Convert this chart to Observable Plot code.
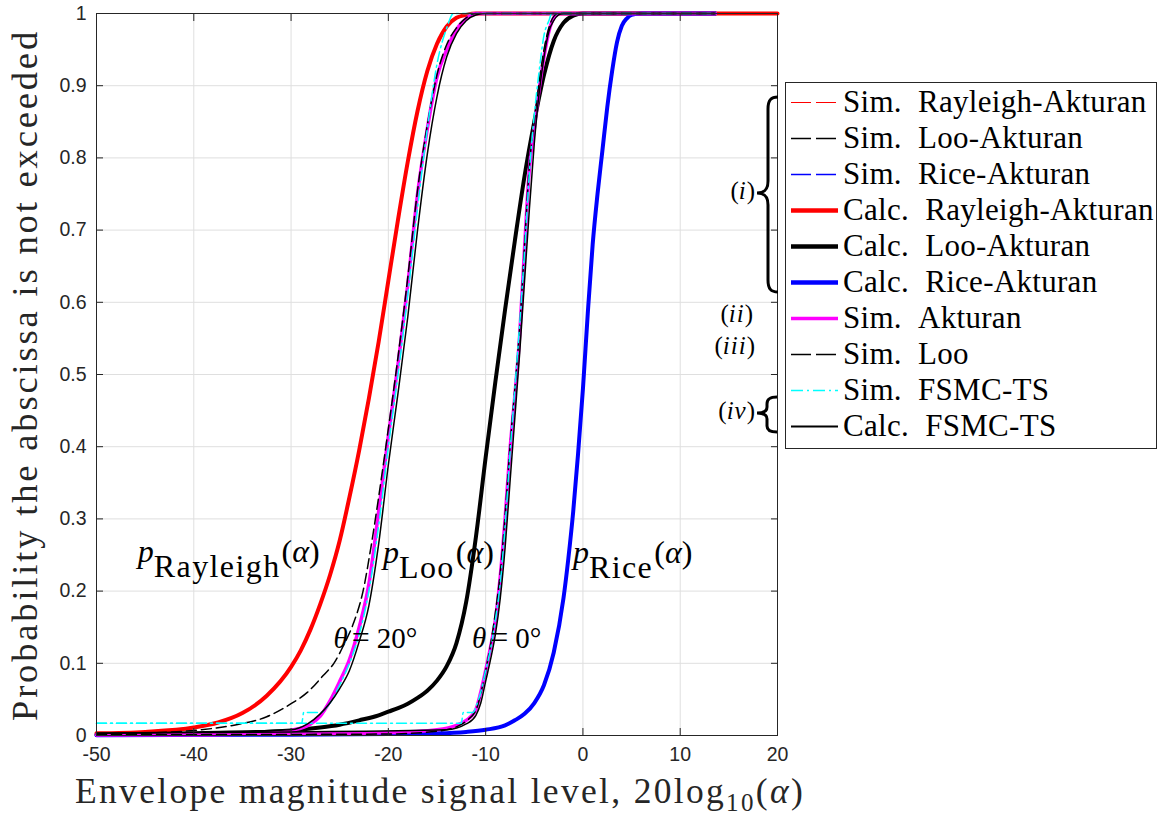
<!DOCTYPE html>
<html><head><meta charset="utf-8">
<script src="https://cdn.jsdelivr.net/npm/d3@7"></script>
<script src="https://cdn.jsdelivr.net/npm/@observablehq/plot@0.6"></script>
<style>
body{margin:0;background:#fff;}
#wrap{position:relative;width:1159px;height:818px;overflow:hidden;}
</style></head><body><div id="wrap"></div>
<script>
// ---------- axis ticks ----------
const xTicks = [-50, -40, -30, -20, -10, 0, 10, 20];
const yTicks = [0, 0.1, 0.2, 0.3, 0.4, 0.5, 0.6, 0.7, 0.8, 0.9, 1];
const yTickLabels = ["0", "0.1", "0.2", "0.3", "0.4", "0.5", "0.6", "0.7", "0.8", "0.9", "1"];

// ---------- series (x in dB, p = CDF) ----------
const rayleighX = [-50, -45, -40, -37.5, -35, -32.5, -30, -29, -28, -27, -26, -25, -24, -23, -22, -21, -20, -19, -18, -17, -16, -15, -14, -13, -12, -11, 20];
const rayleighP = [0.003, 0.005, 0.011, 0.018, 0.031, 0.055, 0.095, 0.118, 0.147, 0.182, 0.222, 0.27, 0.33, 0.395, 0.467, 0.545, 0.63, 0.715, 0.795, 0.865, 0.92, 0.958, 0.982, 0.994, 0.998, 1, 1];

const looAktX = [-50, -40, -30, -27, -25, -23, -21, -20, -19, -18, -17, -16, -15, -14, -13, -12, -11, -10, -9, -8, -7, -6, -5, -4, -3, -2, -1, 0, 13.6];
const looAktP = [0.001, 0.002, 0.007, 0.011, 0.015, 0.021, 0.028, 0.033, 0.038, 0.044, 0.052, 0.062, 0.076, 0.096, 0.128, 0.185, 0.275, 0.385, 0.49, 0.59, 0.685, 0.775, 0.85, 0.915, 0.962, 0.987, 0.997, 1, 1];

const riceX = [-50, -30, -20, -15, -12, -10, -8, -7, -6, -5, -4, -3, -2, -1.5, -1, -0.5, 0, 0.5, 1, 1.5, 2, 2.5, 3, 3.5, 4, 4.5, 5, 6, 13.6];
const riceP = [0.0005, 0.001, 0.002, 0.003, 0.005, 0.008, 0.014, 0.021, 0.03, 0.045, 0.07, 0.115, 0.19, 0.245, 0.31, 0.39, 0.48, 0.585, 0.68, 0.75, 0.81, 0.87, 0.92, 0.96, 0.983, 0.993, 0.998, 1, 1];

// theta = 20 deg group
const aktAX = [-50, -40, -35, -32, -30, -28, -27, -26, -25, -24, -23, -22, -21, -20, -19, -18, -17, -16, -15, -14, -13, -12, -11, 13.6];
const aktAP = [0.001, 0.001, 0.002, 0.003, 0.007, 0.016, 0.027, 0.048, 0.075, 0.105, 0.15, 0.21, 0.31, 0.415, 0.515, 0.625, 0.75, 0.84, 0.912, 0.95, 0.978, 0.993, 1, 1];

const looAX = [-50, -45, -40, -36, -32.5, -30, -28.3, -26.7, -25.6, -24.6, -23.6, -22.6, -21.8, -21, -20, -19, -18, -17, -16, -15, -14, -13, -12, -11, 13.6];
const looAP = [0.001, 0.003, 0.007, 0.014, 0.026, 0.044, 0.06, 0.083, 0.1, 0.125, 0.155, 0.2, 0.26, 0.33, 0.425, 0.525, 0.635, 0.755, 0.845, 0.915, 0.957, 0.98, 0.994, 1, 1];

const fsmcSimAX = [-50, -28.9, -28.7, -27, -26, -25, -24, -23, -22, -21, -20, -19, -18, -17, -16, -15, -14, -13.3, 13.6];
const fsmcSimAP = [0.017, 0.017, 0.032, 0.032, 0.045, 0.07, 0.1, 0.14, 0.2, 0.29, 0.4, 0.5, 0.61, 0.73, 0.84, 0.93, 0.98, 1, 1];

const fsmcCalcAX = [-50, -40, -30, -28.3, -27, -26, -25, -24, -23, -22, -21, -20, -19, -18, -17, -16, -15, -14, -13, -12, -11, -10, 13.6];
const fsmcCalcAP = [0.003, 0.005, 0.008, 0.016, 0.03, 0.045, 0.065, 0.09, 0.13, 0.18, 0.265, 0.375, 0.475, 0.58, 0.70, 0.805, 0.885, 0.94, 0.972, 0.99, 0.998, 1, 1];

// theta = 0 deg group
const aktBX = [-50, -30, -20, -15, -13, -12, -11, -10.5, -10, -9.5, -9, -8.5, -8, -7.5, -7, -6.5, -6, -5.5, -5, -4.5, -4, -3.5, -3, -2.5, 13.6];
const aktBP = [0.001, 0.002, 0.004, 0.008, 0.014, 0.021, 0.036, 0.06, 0.09, 0.122, 0.16, 0.22, 0.3, 0.395, 0.47, 0.555, 0.675, 0.785, 0.84, 0.895, 0.94, 0.975, 0.994, 1, 1];

const looBX = [-50, -20, -15, -13, -12, -11, -10.5, -10, -9.5, -9, -8.5, -8, -7.5, -7, -6.5, -6, -5.5, -5, -4.5, -4, -3.5, -3, -2.5, 13.6];
const looBP = [0.001, 0.002, 0.006, 0.012, 0.02, 0.035, 0.058, 0.09, 0.125, 0.17, 0.225, 0.305, 0.4, 0.48, 0.565, 0.68, 0.79, 0.85, 0.905, 0.95, 0.98, 0.996, 1, 1];

const fsmcSimBX = [-50, -12.5, -12.3, -11.3, -11, -10.5, -10, -9.5, -9, -8.5, -8, -7.5, -7, -6.5, -6, -5.5, -5, -4.5, -4, -3.5, -3.2, 13.6];
const fsmcSimBP = [0.017, 0.017, 0.032, 0.032, 0.04, 0.06, 0.09, 0.12, 0.16, 0.21, 0.29, 0.39, 0.48, 0.57, 0.67, 0.78, 0.86, 0.92, 0.97, 0.99, 1, 1];

const fsmcCalcBX = [-50, -30, -14, -12, -11, -10.5, -10, -9.5, -9, -8.5, -8, -7.5, -7, -6.5, -6, -5.5, -5, -4.5, -4, -3.5, -3, -2.5, -2, 13.6];
const fsmcCalcBP = [0.003, 0.005, 0.008, 0.016, 0.028, 0.045, 0.075, 0.105, 0.14, 0.19, 0.26, 0.35, 0.44, 0.53, 0.63, 0.73, 0.82, 0.89, 0.94, 0.975, 0.99, 0.998, 1, 1];

// ---------- legend ----------
const legendLabels = [
  "Sim.\u00A0\u00A0Rayleigh-Akturan", "Sim.\u00A0\u00A0Loo-Akturan", "Sim.\u00A0\u00A0Rice-Akturan",
  "Calc.\u00A0\u00A0Rayleigh-Akturan", "Calc.\u00A0\u00A0Loo-Akturan", "Calc.\u00A0\u00A0Rice-Akturan",
  "Sim.\u00A0\u00A0Akturan", "Sim.\u00A0\u00A0Loo", "Sim.\u00A0\u00A0FSMC-TS", "Calc.\u00A0\u00A0FSMC-TS"
];
const legendStyles = [
  {stroke: "#ff0000", w: 1, dash: "20,5"},
  {stroke: "#000000", w: 1.3, dash: "20,5"},
  {stroke: "#0000ff", w: 1.3, dash: "20,5"},
  {stroke: "#ff0000", w: 4.3, dash: null},
  {stroke: "#000000", w: 4.3, dash: null},
  {stroke: "#0000ff", w: 4.3, dash: null},
  {stroke: "#ff00ff", w: 3.5, dash: null},
  {stroke: "#000000", w: 1.5, dash: "20,5"},
  {stroke: "#00ffff", w: 1.5, dash: "12,4,2,4"},
  {stroke: "#000000", w: 2, dash: null}
];

const mk = (xs, ps) => xs.map((x, i) => ({x, p: ps[i]}));
const lineSeries = [
  {d: mk(rayleighX, rayleighP), stroke: "#ff0000", w: 4, dash: null},
  {d: mk(looAktX, looAktP), stroke: "#000000", w: 4, dash: null},
  {d: mk(riceX, riceP), stroke: "#0000ff", w: 4, dash: null},
  {d: mk(aktAX, aktAP), stroke: "#ff00ff", w: 3.5, dash: null},
  {d: mk(aktBX, aktBP), stroke: "#ff00ff", w: 3.5, dash: null},
  {d: mk(looAX, looAP), stroke: "#000000", w: 1.5, dash: "10,5"},
  {d: mk(looBX, looBP), stroke: "#000000", w: 1.5, dash: "10,5"},
  {d: mk(fsmcSimAX, fsmcSimAP), stroke: "#00ffff", w: 1.5, dash: "10,4,2,4"},
  {d: mk(fsmcSimBX, fsmcSimBP), stroke: "#00ffff", w: 1.5, dash: "10,4,2,4"},
  {d: mk(fsmcCalcAX, fsmcCalcAP), stroke: "#000000", w: 1.5, dash: null},
  {d: mk(fsmcCalcBX, fsmcCalcBP), stroke: "#000000", w: 1.5, dash: null}
];

const serif = "'Liberation Serif', 'DejaVu Serif', serif";
const sans = "'Liberation Sans', Arial, sans-serif";
const axisColor = "#262626";
const gridColor = "#dfdfdf";
const tickLen = 7;
const tickFont = 19.5;

const plot = Plot.plot({
  width: 1159, height: 818,
  marginLeft: 96, marginRight: 382, marginTop: 13, marginBottom: 83,
  x: {domain: [-50, 20]},
  y: {domain: [0, 1]},
  style: {fontFamily: sans, fontSize: tickFont + "px", color: axisColor, background: "white", overflow: "visible"},
  marks: [
    Plot.gridX(xTicks, {stroke: gridColor, strokeOpacity: 1}),
    Plot.gridY(yTicks, {stroke: gridColor, strokeOpacity: 1}),
    ...lineSeries.map(s => Plot.line(s.d, {x: "x", y: "p", stroke: s.stroke, strokeWidth: s.w, strokeDasharray: s.dash, curve: "monotone-x", strokeLinejoin: "round"})),
    Plot.frame({stroke: axisColor, strokeWidth: 1}),
    Plot.axisX(xTicks, {anchor: "bottom", tickSize: 0, tickPadding: 12, tickFormat: d => String(d), label: null, fill: axisColor}),
    Plot.axisY(yTicks, {anchor: "left", tickSize: 0, tickPadding: 10, tickFormat: d => yTickLabels[yTicks.indexOf(d)], label: null, fill: axisColor}),
    Plot.axisX(xTicks, {anchor: "bottom", tickSize: tickLen, dy: -tickLen, fill: "none", label: null, stroke: axisColor}),
    Plot.axisX(xTicks, {anchor: "top", tickSize: tickLen, dy: tickLen, fill: "none", label: null, stroke: axisColor}),
    Plot.axisY(yTicks, {anchor: "left", tickSize: tickLen, dx: tickLen, fill: "none", label: null, stroke: axisColor}),
    Plot.axisY(yTicks, {anchor: "right", tickSize: tickLen, dx: -tickLen, fill: "none", label: null, stroke: axisColor})
  ]
});
document.getElementById("wrap").appendChild(plot);

const svg = d3.select(plot);
// tick labels drawn by Plot's axes: enforce their size
svg.selectAll("text").attr("font-size", tickFont).style("font-size", tickFont + "px");
svg.selectAll("g").filter(function() { return this.getAttribute("font-size"); }).attr("font-size", tickFont);

const X = plot.scale("x"), Y = plot.scale("y");
const g = svg.append("g").attr("font-family", serif).attr("fill", "#000").attr("text-anchor", "start");

function fit(sel, target) {
  const node = sel.node();
  const w = node.getComputedTextLength();
  const n = node.textContent.length;
  sel.attr("letter-spacing", ((target - w) / n).toFixed(2));
}

// axis titles
const xl = g.append("text").attr("x", 75).attr("y", 803).attr("font-size", 35.5).attr("fill", axisColor);
xl.append("tspan").text("Envelope magnitude signal level, 20log");
xl.append("tspan").attr("font-size", 25).attr("dy", 8).text("10");
xl.append("tspan").attr("dy", -8).text("(");
xl.append("tspan").attr("font-style", "italic").text("α");
xl.append("tspan").text(")");
fit(xl, 730);

const yl = g.append("text").attr("transform", "translate(37,721) rotate(-90)").attr("font-size", 36.5).attr("fill", axisColor)
  .text("Probability the abscissa is not exceeded");
fit(yl, 692);

// in-plot annotations (data coordinates)
const pLabels = [
  {x: -45.7, y: 0.24, sub: "Rayleigh"},
  {x: -20.5, y: 0.238, sub: "Loo"},
  {x: -0.97, y: 0.238, sub: "Rice"}
];
for (const a of pLabels) {
  const t = g.append("text").attr("x", X.apply(a.x)).attr("y", Y.apply(a.y)).attr("font-size", 32);
  t.append("tspan").attr("font-style", "italic").text("p");
  t.append("tspan").attr("dy", 15).attr("letter-spacing", 1.4).text(a.sub);
  t.append("tspan").attr("dy", -15).attr("dx", 1).text("(");
  t.append("tspan").attr("font-style", "italic").text("α");
  t.append("tspan").text(")");
}
const thetaLabels = [
  {x: -25.6, y: 0.12, val: "20°"},
  {x: -11.35, y: 0.12, val: "0°"}
];
for (const a of thetaLabels) {
  const t = g.append("text").attr("x", X.apply(a.x)).attr("y", Y.apply(a.y)).attr("font-size", 29);
  t.append("tspan").attr("font-style", "italic").text("θ");
  t.append("tspan").attr("dx", 4).attr("font-size", 32).text("=");
  t.append("tspan").attr("dx", 7).text(a.val);
}

// legend
const lg = g.append("g");
lg.append("rect").attr("x", 785.5).attr("y", 82.5).attr("width", 371).attr("height", 366)
  .attr("fill", "white").attr("stroke", axisColor).attr("stroke-width", 1);
legendLabels.forEach((lab, i) => {
  const s = legendStyles[i];
  const ly = 102.5 + i * 36;
  lg.append("line").attr("x1", 791).attr("x2", 838).attr("y1", ly).attr("y2", ly)
    .attr("stroke", s.stroke).attr("stroke-width", s.w).attr("stroke-dasharray", s.dash);
  lg.append("text").attr("x", 843).attr("y", 111.5 + i * 36).attr("font-size", 31).attr("letter-spacing", 0.3).text(lab);
});

// braces and group labels
const braces = [
  "M778,97 C771,97 768,100 768,109 L768,181 C768,189 765,193 757,193 C765,193 768,197 768,205 L768,280 C768,289 771,292 778,292",
  "M777,397 C770,397 767,399 767,404 L767,407 C767,411 764,413 757,413 C764,413 767,415 767,419 L767,426 C767,430 770,432 777,432"
];
braces.forEach(p => g.append("path").attr("d", p).attr("fill", "none").attr("stroke", "#000").attr("stroke-width", 3));
const groupLabels = [
  {x: 755, y: 199, t: "i"}, {x: 753, y: 322, t: "ii"}, {x: 755, y: 354, t: "iii"}, {x: 755, y: 419, t: "iv"}
];
for (const a of groupLabels) {
  const t = g.append("text").attr("x", a.x).attr("y", a.y).attr("font-size", 25).attr("text-anchor", "end");
  t.append("tspan").text("(");
  t.append("tspan").attr("font-style", "italic").attr("letter-spacing", 1).text(a.t);
  t.append("tspan").text(")");
}
</script>
</body></html>
